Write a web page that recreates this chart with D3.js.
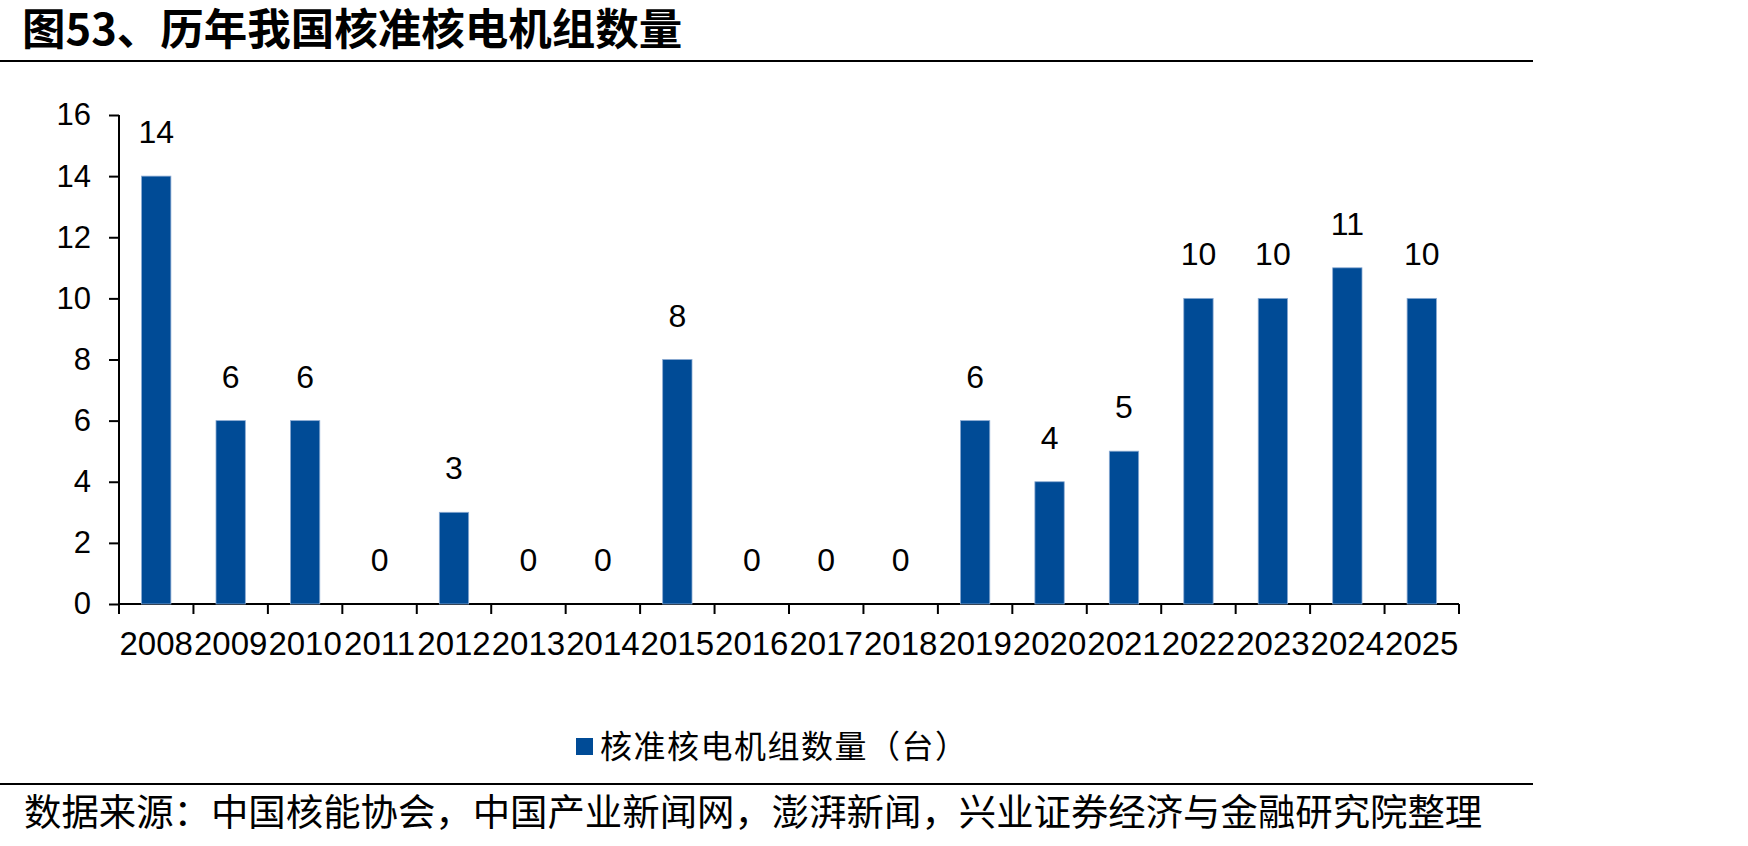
<!DOCTYPE html>
<head>
  <meta charset="utf-8">
  <title>历年我国核准核电机组数量</title>
  <script src="https://d3js.org/d3.v7.min.js"></script>
  <style>
    body { margin: 0; background: white; }
    text { fill: #000; }
    .num { font-family: "Liberation Sans", Arial, sans-serif; font-size: 30px; }
    .cjk { font-family: "Noto Sans CJK SC", sans-serif; }
  </style>
</head>
<body>
<script>
// data
const years = ['2008','2009','2010','2011','2012','2013','2014','2015','2016',
               '2017','2018','2019','2020','2021','2022','2023','2024','2025']
const units = [14, 6, 6, 0, 3, 0, 0, 8, 0, 0, 0, 6, 4, 5, 10, 10, 11, 10]
const yTicks = [0, 2, 4, 6, 8, 10, 12, 14, 16]
const seriesName = '核准核电机组数量（台）'
const titleText = '图53、历年我国核准核电机组数量'
const sourceText = '数据来源：中国核能协会，中国产业新闻网，澎湃新闻，兴业证券经济与金融研究院整理'

const W = 1748, H = 846
const mLeft = 119, mRight = 1459, mTop = 115, mBottom = 604
const barColor = '#004b96'

const svg = d3.select('body').append('svg').attr('width', W).attr('height', H)

// title + rules
svg.append('text').attr('class', 'cjk')
  .attr('x', 22).attr('y', 45)
  .style('font-size', '43.5px').style('font-weight', 'bold')
  .text(titleText)
svg.append('line').attr('x1', 0).attr('x2', 1533).attr('y1', 61).attr('y2', 61)
  .attr('stroke', '#000').attr('stroke-width', 2)
svg.append('line').attr('x1', 0).attr('x2', 1533).attr('y1', 784).attr('y2', 784)
  .attr('stroke', '#000').attr('stroke-width', 2)
svg.append('text').attr('class', 'cjk')
  .attr('x', 24).attr('y', 826)
  .style('font-size', '37.4px')
  .text(sourceText)

const x = d3.scaleBand().domain(years).range([mLeft, mRight]).paddingInner(0.606).paddingOuter(0.303)
const y = d3.scaleLinear().domain([0, 16]).range([mBottom, mTop])

// y axis
const yAxis = svg.append('g').attr('transform', `translate(${mLeft},0)`)
  .call(d3.axisLeft(y).tickValues(yTicks).tickSize(10).tickPadding(18))
yAxis.select('.domain').attr('stroke', '#000').attr('stroke-width', 2).attr('d', `M0,${mTop}V${mBottom}`)
yAxis.selectAll('line').attr('stroke', '#000').attr('stroke-width', 2)
yAxis.selectAll('text').attr('class', 'num').attr('fill', '#000').style('font-size', '31px')

// x axis: ticks on the band edges
const edges = years.map(d => x(d) - x.step() * x.paddingInner() / 2).concat([mRight])
const xg = svg.append('g')
xg.append('line').attr('x1', mLeft).attr('x2', mRight).attr('y1', mBottom).attr('y2', mBottom)
  .attr('stroke', '#000').attr('stroke-width', 2)
xg.selectAll('.tk').data(edges).join('line')
  .attr('x1', d => d).attr('x2', d => d).attr('y1', mBottom).attr('y2', mBottom + 10)
  .attr('stroke', '#000').attr('stroke-width', 2)
xg.selectAll('.yl').data(years).join('text')
  .attr('class', 'num')
  .attr('x', d => x(d) + x.bandwidth() / 2).attr('y', 655)
  .attr('text-anchor', 'middle')
  .style('font-size', '33px')
  .text(d => d)

// bars
svg.selectAll('.bar').data(years).join('rect')
  .attr('x', d => x(d))
  .attr('width', x.bandwidth())
  .attr('y', (d, i) => y(units[i]))
  .attr('height', (d, i) => y(0) - y(units[i]))
  .attr('fill', barColor)
  .attr('stroke', '#8aaad2').attr('stroke-width', (d, i) => units[i] ? 0.8 : 0)

// value labels
svg.selectAll('.val').data(years).join('text')
  .attr('class', 'num')
  .attr('x', d => x(d) + x.bandwidth() / 2)
  .attr('y', (d, i) => y(units[i]) - 33)
  .attr('text-anchor', 'middle')
  .style('font-size', '32px')
  .text((d, i) => units[i])

// legend
svg.append('rect').attr('x', 576).attr('y', 738).attr('width', 17).attr('height', 17).attr('fill', barColor)
svg.append('text').attr('class', 'cjk')
  .attr('x', 600).attr('y', 758)
  .style('font-size', '32px').style('letter-spacing', '1.5px')
  .text(seriesName)
</script>
</body>
